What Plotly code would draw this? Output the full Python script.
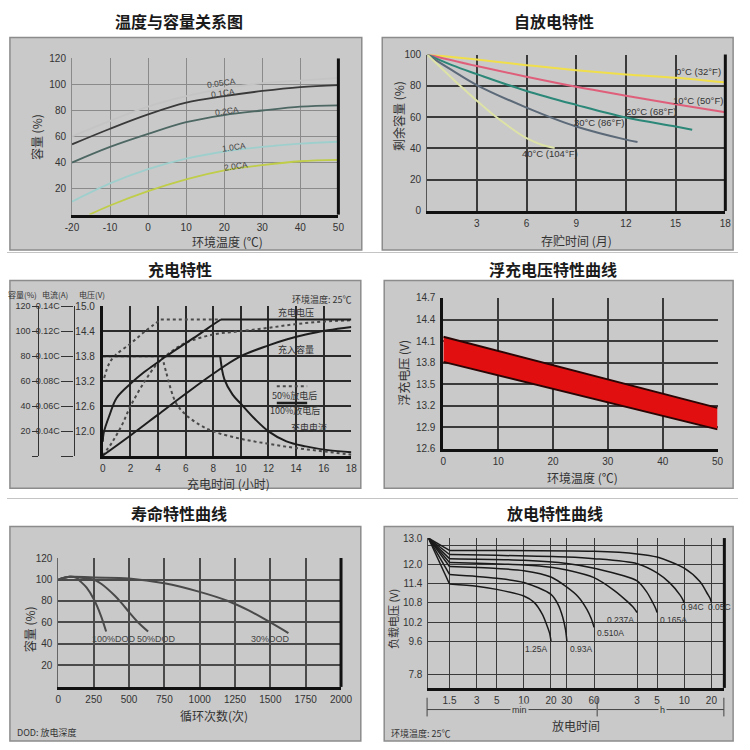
import math
import plotly.graph_objects as go

W = H = 750
def PX(x): return x / W
def PY(y): return 1 - y / H

CJK = "Noto Sans CJK SC"
LAT = "Liberation Sans"
INK = "#333333"
BOX_FILL = "#c9c9c9"
BOX_LINE = "#8c8c8c"

# ---------------- Panel 1: temperature vs capacity ----------------
temp_c = [-20, -10, 0, 10, 20, 30, 40, 50]
temp_ticks = [-20, -10, 0, 10, 20, 30, 40, 50]
temp_ticktext = ["-20", "-10", "0", "10", "20", "30", "40", "50"]
cap_005ca = [60, 72, 83, 91, 97, 101, 103, 105]
cap_01ca = [54, 66, 77, 86, 91, 95, 98, 99.5]
cap_02ca = [40, 52, 62, 71, 76.5, 80, 83, 84]
cap_10ca = [10, 24, 35, 43, 48.5, 52, 54.5, 56]
temp_c_20 = [-15.4, -10, 0, 10, 20, 30, 40, 50]
cap_20ca = [0, 7, 18, 27, 34, 38, 41, 42]
rate_labels = ["0.05CA", "0.1CA", "0.2CA", "1.0CA", "2.0CA"]
rate_label_x = [19.3, 19.8, 20.8, 22.6, 23.1]
rate_label_y = [100.8, 93.4, 79.4, 52.2, 37.5]
rate_colors = ["#c4c4c4", "#3a3a3a", "#4d6763", "#9fcfcd", "#bfcd48"]

# ---------------- Panel 2: self discharge ----------------
sd_months_a = [0, 3, 6, 9, 12, 15, 18]
sd_0c = [100, 96.8, 93.2, 90, 87.3, 85.2, 82.2]
sd_10c = [100, 92.6, 85.8, 79.4, 73.7, 68.2, 63.1]
sd_months_20 = [0, 1.5, 3, 6, 9, 12, 15, 16]
sd_20c = [100, 93.2, 87.5, 76.7, 67.8, 59.7, 54, 51.9]
sd_months_30 = [0, 1.5, 3, 6, 9, 12, 12.7]
sd_30c = [100, 90, 80.5, 66.1, 54, 45.6, 44.1]
sd_months_40 = [0, 1, 2, 3, 4, 5, 6, 7, 7.7]
sd_40c = [100, 90, 80, 70.5, 61.5, 53.5, 46.5, 42.0, 40.3]
sd_labels = ["0°C (32°F)", "10°C (50°F)", "20°C (68°F)", "30°C (86°F)", "40°C (104°F)"]
sd_label_x = [16.4, 16.35, 13.5, 10.4, 7.44]
sd_label_y = [89.1, 70.3, 63.8, 56.8, 36.7]
sd_colors = ["#f0df4a", "#df5f7b", "#2b8878", "#5b6978", "#dde2a6"]

# ---------------- Panel 3: charging characteristics ----------------
chg_v100_x = [0, 0.06, 0.5, 1, 2, 3, 4, 4.5, 5, 6, 7, 8, 8.55]
chg_v100_y = [11.75, 11.96, 12.4, 12.8, 13.14, 13.42, 13.66, 13.78, 13.89, 14.11, 14.33, 14.56, 14.68]
chg_v100_flat_x = [8.55, 18]
chg_v100_flat_y = [14.68, 14.68]
chg_v50_x = [0.1, 0.5, 1.0, 2.0, 3.0, 4.2]
chg_v50_y = [13.28, 13.65, 13.85, 14.1, 14.38, 14.68]
chg_v50_flat_x = [4.2, 8.55]
chg_v50_flat_y = [14.68, 14.68]
chg_i100_flat_x = [0, 8.5]
chg_i100_flat_y = [13.8, 13.8]
chg_i100_x = [8.5, 8.8, 9.4, 10, 11, 12, 13.3, 14.7, 16.3, 18]
chg_i100_y = [13.8, 13.25, 12.88, 12.66, 12.3, 12.0, 11.76, 11.64, 11.55, 11.5]
chg_i50_flat_x = [0, 4.3]
chg_i50_flat_y = [13.8, 13.8]
chg_i50_x = [4.3, 4.6, 5.3, 6, 7, 8, 10, 12, 14, 16, 18]
chg_i50_y = [13.8, 13.4, 12.68, 12.4, 12.16, 12.0, 11.82, 11.7, 11.6, 11.52, 11.44]
chg_c100_x = [0, 2, 4, 6, 8, 10, 12, 13.3, 14.7, 16.3, 18]
chg_c100_y = [11.42, 11.9, 12.4, 12.9, 13.38, 13.8, 14.06, 14.2, 14.32, 14.42, 14.5]
chg_c50_x = [0, 0.7, 1.4, 2, 3, 4, 5, 6, 8, 10, 12, 14, 16, 18]
chg_c50_y = [11.42, 11.75, 12.16, 12.6, 13.18, 13.64, 13.92, 14.12, 14.32, 14.4, 14.48, 14.57, 14.63, 14.66]
volt_ticks = [12.0, 12.6, 13.2, 13.8, 14.4, 15.0]
cap_ticks = [0, 20, 40, 60, 80, 100, 120]
cap_ticktext = ["", "20", "40", "60", "80", "100", "120"]
cur_ticks = [0.02, 0.04, 0.06, 0.08, 0.10, 0.12, 0.14]
cur_ticktext = ["", "0.04C", "0.06C", "0.08C", "0.10C", "0.12C", "0.14C"]

# ---------------- Panel 4: float voltage ----------------
float_temp = [0, 50]
float_hi = [14.16, 13.17]
float_lo = [13.81, 12.87]
float_ticks = [12.6, 12.9, 13.2, 13.5, 13.8, 14.1, 14.4, 14.7]

# ---------------- Panel 5: cycle life ----------------
cyc_100 = [0, 80, 130, 150, 200, 250, 300, 338]
life_100 = [100, 102.5, 101.5, 99, 92.4, 81.8, 66.7, 51.6]
cyc_50 = [0, 80, 150, 250, 303, 400, 452, 500, 567, 635]
life_50 = [100, 102.5, 101.8, 100, 96, 84.8, 77.3, 69.7, 59.8, 51.6]
cyc_30 = [0, 80, 250, 500, 750, 1000, 1200, 1350, 1500, 1628]
life_30 = [100, 102.5, 101.8, 101, 96.5, 88.5, 80, 71, 60, 50.1]
dod_labels = ["100%DOD", "50%DOD", "30%DOD"]
dod_label_x = [395, 694, 1499]
dod_label_y = [44.6, 44.6, 44.6]

# ---------------- Panel 6: discharge (time in minutes) ----------------
dis_curves = {
    "1.25A": ([0.874, 1.5, 3, 5, 10, 13, 16, 18, 19.3, 20],
              [12.85, 11.40, 11.33, 11.23, 11.02, 10.82, 10.45, 10.1, 9.85, 9.6]),
    "0.93A": ([0.874, 1.5, 3, 5, 10, 20, 24, 27, 29, 30],
              [12.85, 11.70, 11.64, 11.58, 11.45, 11.07, 10.75, 10.35, 9.95, 9.6]),
    "0.510A": ([0.874, 1.5, 3, 5, 10, 20, 30, 40, 50, 56, 60],
               [12.85, 11.95, 11.92, 11.89, 11.82, 11.62, 11.3, 11.0, 10.6, 10.3, 10.03]),
    "0.237A": ([0.874, 1.5, 10, 20, 30, 60, 100, 140, 165, 180],
               [12.85, 12.08, 12.0, 11.93, 11.84, 11.6, 11.2, 10.85, 10.65, 10.5]),
    "0.165A": ([0.874, 1.5, 10, 30, 60, 180, 230, 270, 290, 300],
               [12.85, 12.2, 12.15, 12.05, 11.9, 11.5, 11.15, 10.8, 10.62, 10.5]),
    "0.94C": ([0.874, 1.5, 30, 60, 180, 300, 420, 540, 580, 600],
              [12.85, 12.33, 12.25, 12.2, 12.04, 11.75, 11.42, 11.05, 10.9, 10.8]),
    "0.05C": ([0.874, 1.5, 60, 180, 300, 600, 900, 1080, 1160, 1200],
              [12.85, 12.46, 12.43, 12.35, 12.25, 11.9, 11.47, 11.1, 10.95, 10.82]),
}
dis_label_y = [9.36, 9.36, 9.86, 10.26, 10.26, 10.67, 10.67]
dis_label_anchor = ["right", "left", "left", "right", "left", "left", "left"]
dis_label_shift = [-1, 1, 1, -1, 1, -5, -5]
dis_time_ticks = [1.5, 3, 5, 10, 20, 30, 60, 180, 300, 600, 1200]
dis_time_text = ["1.5", "3", "5", "10", "20", "30", "60", "3", "5", "10", "20"]
dis_volt_ticks = [8.55, 9.6, 10.2, 10.8, 11.4, 12.0, 12.6, 12.85]
dis_volt_text = ["7.8", "9.6", "10.2", "10.8", "11.4", "12.0", "", "13.0"]

fig = go.Figure()

def add_line(x, y, xa, ya, color, width=2.0, dash=None, shape="linear", smoothing=1.0, fill=None, fillcolor=None):
    fig.add_trace(go.Scatter(
        x=x, y=y, xaxis=xa, yaxis=ya, mode="lines",
        line=dict(color=color, width=width, dash=dash, shape=shape, smoothing=smoothing),
        fill=fill, fillcolor=fillcolor, hoverinfo="skip", showlegend=False))

ann = []
def text(t, x, y, size=10, family=LAT, color=INK, xanchor="center", angle=0,
         xref="paper", yref="paper", weight="normal", bg=None, xshift=0, yanchor="middle"):
    a = dict(text=t, x=x, y=y, xref=xref, yref=yref, showarrow=False, xanchor=xanchor,
             yanchor=yanchor, textangle=angle, xshift=xshift,
             font=dict(family=family, size=size, color=color, weight=weight))
    if bg:
        a["bgcolor"] = bg
    ann.append(a)

shapes = []
def box(x0, y0, x1, y1):
    shapes.append(dict(type="rect", xref="paper", yref="paper", x0=PX(x0), x1=PX(x1),
                       y0=PY(y1), y1=PY(y0), fillcolor=BOX_FILL,
                       line=dict(color=BOX_LINE, width=1.5), layer="below"))

def pline(x0, y0, x1, y1, color="#333", width=1):
    shapes.append(dict(type="line", xref="paper", yref="paper", x0=PX(x0), x1=PX(x1),
                       y0=PY(y0), y1=PY(y1), line=dict(color=color, width=width)))

def right_edge(xa, ya, width=3, color="#111"):
    shapes.append(dict(type="line", xref=f"{xa} domain", yref=f"{ya} domain",
                       x0=1, x1=1, y0=0, y1=1, line=dict(color=color, width=width)))

def axis(dom, anchor, rng, tickvals, ticktext=None, grid="#888", gw=1, line=None, lw=1,
         typ="linear", size=10, ticklen=3):
    d = dict(domain=dom, anchor=anchor, range=rng, type=typ, tickmode="array", tickvals=tickvals,
             showgrid=True, gridcolor=grid, gridwidth=gw, zeroline=False,
             showline=line is not None, linecolor=line or "black", linewidth=lw,
             ticks="outside", ticklen=ticklen, tickcolor="rgba(0,0,0,0)",
             tickfont=dict(family=LAT, size=size, color=INK), fixedrange=True)
    if ticktext is not None:
        d["ticktext"] = ticktext
    return d

# row separators and boxes
pline(0, 250.5, 750, 250.5, "#c4c4c4", 1)
pline(0, 500.5, 750, 500.5, "#c4c4c4", 1)
box(3, 32, 364, 248)
box(385, 32, 745, 248)
box(3, 279, 363, 490)
box(387, 279, 745, 490)
box(3, 529, 363, 747)
box(387, 529, 745, 747)

# titles
for t, x, y in [("温度与容量关系图", 176, 15), ("自放电特性", 561, 15), ("充电特性", 177, 267),
                ("浮充电压特性曲线", 560, 267), ("寿命特性曲线", 176, 515), ("放电特性曲线", 562, 515)]:
    text(t, PX(x), PY(y), size=16, family=CJK, color="#1a1a1a", weight="bold")

# ---------- Panel 1 traces ----------
for ys, col in zip([cap_005ca, cap_01ca, cap_02ca, cap_10ca], rate_colors[:4]):
    add_line(temp_c, ys, "x", "y", col, 1.8, shape="spline")
add_line(temp_c_20, cap_20ca, "x", "y", rate_colors[4], 1.8, shape="spline")
for t, x, y in zip(rate_labels, rate_label_x, rate_label_y):
    text(t, x, y, size=8.5, color="#444", angle=-8, xref="x", yref="y")
text("环境温度 (℃)", PX(226), PY(239), size=12, family=CJK)
text("容量 (%)", PX(31), PY(133), size=12, family=CJK, angle=-90)
right_edge("x", "y")

# ---------- Panel 2 traces ----------
add_line(sd_months_a, sd_0c, "x2", "y2", sd_colors[0], 2, shape="spline")
add_line(sd_months_a, sd_10c, "x2", "y2", sd_colors[1], 2, shape="spline")
add_line(sd_months_20, sd_20c, "x2", "y2", sd_colors[2], 2, shape="spline")
add_line(sd_months_30, sd_30c, "x2", "y2", sd_colors[3], 2, shape="spline")
add_line(sd_months_40, sd_40c, "x2", "y2", sd_colors[4], 2, shape="spline")
for t, x, y in zip(sd_labels, sd_label_x, sd_label_y):
    text(t, x, y, size=9.5, color="#333", xref="x2", yref="y2")
text("存贮时间 (月)", PX(584), PY(238), size=12, family=CJK)
text("剩余容量 (%)", PX(401), PY(112), size=12, family=CJK, angle=-90)
right_edge("x2", "y2")

# ---------- Panel 3 traces ----------
SOL = "#1e1e1e"
DOT = "#4a4a4a"
add_line(chg_c50_x, chg_c50_y, "x3", "y3", DOT, 2, dash="dot", shape="spline")
add_line(chg_v50_x, chg_v50_y, "x3", "y3", DOT, 2, dash="dot", shape="spline")
add_line(chg_v50_flat_x, chg_v50_flat_y, "x3", "y3", DOT, 2, dash="dot")
add_line(chg_i50_flat_x, chg_i50_flat_y, "x3", "y3", DOT, 2, dash="dot")
add_line(chg_i50_x, chg_i50_y, "x3", "y3", DOT, 2, dash="dot", shape="spline")
add_line(chg_v100_x, chg_v100_y, "x3", "y3", SOL, 2, shape="spline")
add_line(chg_v100_flat_x, chg_v100_flat_y, "x3", "y3", SOL, 2)
add_line(chg_i100_flat_x, chg_i100_flat_y, "x3", "y3", SOL, 2)
add_line(chg_i100_x, chg_i100_y, "x3", "y3", SOL, 2, shape="spline")
add_line(chg_c100_x, chg_c100_y, "x3", "y3", SOL, 2, shape="spline")
# dummy traces so the side scales are drawn
fig.add_trace(go.Scatter(x=[None], y=[None], xaxis="x3", yaxis="y7", showlegend=False))
fig.add_trace(go.Scatter(x=[None], y=[None], xaxis="x3", yaxis="y8", showlegend=False))
# legend samples
shapes.append(dict(type="line", xref="x3", yref="y3", x0=12.6, x1=14.8, y0=13.08, y1=13.08,
                   line=dict(color=DOT, width=2, dash="dot")))
shapes.append(dict(type="line", xref="x3", yref="y3", x0=12.6, x1=14.8, y0=12.68, y1=12.68,
                   line=dict(color=SOL, width=2.5)))
text("50%放电后", 13.9, 12.87, size=9, family=CJK, xref="x3", yref="y3")
text("100%放电后", 13.9, 12.49, size=9, family=CJK, xref="x3", yref="y3")
text("充电电压", 14.0, 14.84, size=9, family=CJK, xref="x3", yref="y3")
text("充入容量", 14.0, 13.95, size=9, family=CJK, xref="x3", yref="y3")
text("充电电流", 14.9, 12.1, size=9, family=CJK, xref="x3", yref="y3")
text("环境温度: 25℃", PX(323), PY(298), size=9, family=CJK)
text("容量(%)", PX(16), PY(293), size=8, family=CJK)
text("电流(A)", PX(49), PY(293), size=8, family=CJK)
text("电压(V)", PX(87), PY(293), size=8, family=CJK)
text("充电时间 (小时)", PX(227), PY(485), size=12, family=CJK)

# ---------- Panel 4 traces ----------
add_line(float_temp, float_lo, "x4", "y4", "#2a0505", 2)
add_line(float_temp, float_hi, "x4", "y4", "#2a0505", 2, fill="tonexty", fillcolor="#e10f0f")
text("环境温度 (℃)", PX(590), PY(479), size=12, family=CJK)
text("浮充电压 (V)", PX(406), PY(373), size=12, family=CJK, angle=-90)

# ---------- Panel 5 traces ----------
LIFE = "#4a4a4a"
add_line(cyc_30, life_30, "x5", "y5", LIFE, 2, shape="spline")
add_line(cyc_50, life_50, "x5", "y5", LIFE, 2, shape="spline")
add_line(cyc_100, life_100, "x5", "y5", LIFE, 2, shape="spline")
for t, x, y in zip(dod_labels, dod_label_x, dod_label_y):
    text(t, x, y, size=9, color="#444", xref="x5", yref="y5")
text("循环次数(次)", PX(212), PY(721), size=12, family=CJK)
text("容量 (%)", PX(23), PY(633), size=12, family=CJK, angle=-90)
text("DOD: 放电深度", PX(8), PY(738), size=9, family=CJK, xanchor="left")
right_edge("x5", "y5")

# ---------- Panel 6 traces ----------
for (name, (tt, vv)), ly, anc, sh in zip(dis_curves.items(), dis_label_y, dis_label_anchor, dis_label_shift):
    add_line(tt[:2], vv[:2], "x6", "y6", "#1a1a1a", 1.5)
    add_line(tt[1:], vv[1:], "x6", "y6", "#1a1a1a", 1.5, shape="spline", smoothing=0.8)
    text(name, math.log10(tt[-1]), ly, size=8.5, color="#333", xanchor=anc,
         xref="x6", yref="y6", xshift=sh)
right_edge("x6", "y6")
# min / h span marks
for xb in (431, 605.5, 735.5):
    pline(xb, 703, xb, 722, "#444", 1)
pline(431, 715, 605, 715, "#444", 1)
pline(606, 715, 735.5, 715, "#444", 1)
text("min", PX(526), PY(715), size=9, bg=BOX_FILL)
text("h", PX(673), PY(715), size=9, bg=BOX_FILL)
text("放电时间", PX(584), PY(731), size=12, family=CJK)
text("负载电压 (V)", PX(396), PY(623), size=11, family=CJK, angle=-90)
text("环境温度: 25℃", PX(392), PY(739), size=9, family=CJK, xanchor="left")

fig.update_layout(
    width=W, height=H, margin=dict(l=0, r=0, t=0, b=0),
    paper_bgcolor="white", plot_bgcolor="white", showlegend=False,
    shapes=shapes, annotations=ann,
    xaxis=axis([PX(66.7), PX(340)], "y", [-20, 50], temp_ticks, temp_ticktext,
               grid="#8a8a8a", gw=1.2, line="#111", lw=3, ticklen=1),
    yaxis=axis([PY(212), PY(53.3)], "x", [0, 120], list(range(20, 121, 20)),
               grid="#8a8a8a", gw=1.2, line="#8a8a8a", lw=1),
    xaxis2=axis([PX(431), PX(737)], "y2", [0, 18], list(range(3, 19, 3)),
                grid="#3a3a3a", gw=1.6, line="#111", lw=3, ticklen=1),
    yaxis2=axis([PY(208.3), PY(49.3)], "x2", [0, 100], list(range(0, 101, 20)),
                grid="#3a3a3a", gw=1.6, line="#555", lw=1),
    xaxis3=axis([PX(98.3), PX(353.3)], "y3", [0, 18], list(range(0, 19, 2)),
                grid="#2a2a2a", gw=2, line="#111", lw=3, ticklen=1),
    yaxis3=axis([PY(457.7), PY(305)], "x3", [11.4, 15.0], volt_ticks,
                [f"{v:.1f}" for v in volt_ticks], grid="#2a2a2a", gw=2, line="#111", lw=3),
    yaxis7=dict(overlaying="y3", anchor="free", position=PX(32.3), side="left", range=[0, 120],
                tickmode="array", tickvals=cap_ticks, ticktext=cap_ticktext, showgrid=False,
                zeroline=False, showline=True, linecolor="#333", linewidth=1.2, ticks="outside",
                ticklen=6, tickwidth=1.2, tickcolor="#333", fixedrange=True,
                tickfont=dict(family=LAT, size=9, color=INK)),
    yaxis8=dict(overlaying="y3", anchor="free", position=PX(68.3), side="left", range=[0.02, 0.14],
                tickmode="array", tickvals=cur_ticks, ticktext=cur_ticktext, showgrid=False,
                zeroline=False, showline=True, linecolor="#333", linewidth=1.2, ticks="outside",
                ticklen=12, tickwidth=1.2, tickcolor="#333", fixedrange=True,
                tickfont=dict(family=LAT, size=9, color=INK)),
    xaxis4=axis([PX(447.7), PX(729)], "y4", [0, 50], list(range(0, 51, 10)),
                grid="#3a3a3a", gw=1.5, line="#111", lw=3, ticklen=1),
    yaxis4=axis([PY(450), PY(296.7)], "x4", [12.6, 14.7], float_ticks,
                [f"{v:.1f}" for v in float_ticks], grid="#3a3a3a", gw=1.5, line="#111", lw=3),
    xaxis5=axis([PX(52.7), PX(342.7)], "y5", [0, 2000], list(range(0, 2001, 250)),
                grid="#4a4a4a", gw=1.5, line="#111", lw=3, ticklen=1),
    yaxis5=axis([PY(692), PY(561)], "x5", [0, 120], list(range(20, 121, 20)),
                grid="#4a4a4a", gw=1.5, line="#666", lw=1),
    xaxis6=axis([PX(432.3), PX(736)], "y6", [math.log10(0.874), math.log10(1671)], dis_time_ticks,
                dis_time_text, grid="#3a3a3a", gw=1.2, line="#111", lw=3, typ="log", ticklen=1),
    yaxis6=axis([PY(693), PY(540.7)], "x6", [8.12, 12.85], dis_volt_ticks, dis_volt_text,
                grid="#3a3a3a", gw=1.2, line="#444", lw=1),
)

fig.write_html("out.html")
